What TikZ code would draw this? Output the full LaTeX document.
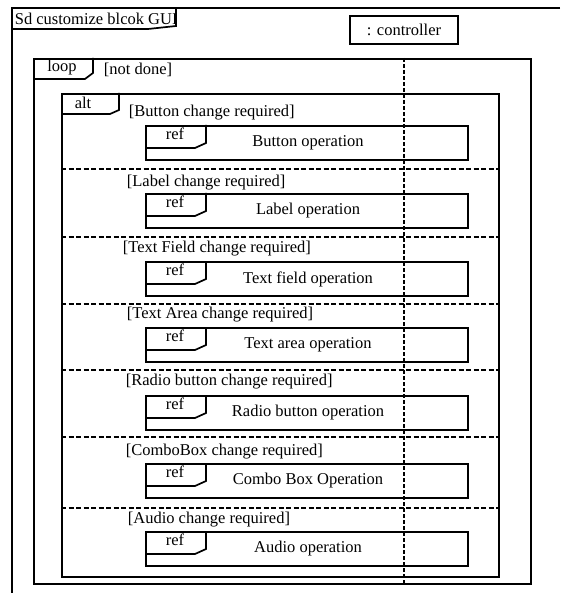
\documentclass[tikz,border=0pt]{standalone}
\usepackage{fontspec}
\setmainfont{Liberation Serif}
\begin{document}
\begin{tikzpicture}[x=1pt,y=-1pt,line width=1.7pt,
  txt/.style={font=\fontsize{16.5}{18}\selectfont, inner sep=0pt},
  frame/.style={draw, rectangle, anchor=north west, inner sep=0pt},
  lifeline/.style={line width=1.7pt, dash pattern=on 4pt off 2pt},
  sep/.style={line width=1.7pt, dash pattern=on 5pt off 2.5pt}]
\useasboundingbox (0,0) rectangle (560,593);
% outer sequence frame
\coordinate (sdtr) at (560,8);
\coordinate (sdtl) at (12,8);
\coordinate (sdbl) at (12,593);
\draw (sdtr) -- (sdtl) -- (sdbl);
\node[txt, anchor=west] (title) at (14,19) {Sd customize blcok GUI};
\draw (sdtl |- 0,29) -- (148,29) -- (176,26) -- (176,8);
% lifeline head
\node[draw, line width=1.4pt, minimum width=108pt, minimum height=28pt, txt] (ctrl) at (404,30) {: controller};
% loop frame
\node[frame, minimum width=497pt, minimum height=525pt] (loop) at (33,58) {};
\draw ([yshift=-21pt]loop.north west) -- ++(52,0) -- ++(8,-6) -- ([xshift=60pt]loop.north west);
\node[txt] (looplbl) at (62,68) {loop};
\node[txt, anchor=west] (loopg) at (103,70) {[not done]};
% alt frame
\node[frame, minimum width=437pt, minimum height=483pt] (alt) at (61,93) {};
\draw ([yshift=-21pt]alt.north west) -- ++(49,0) -- ++(9,-4) -- ([xshift=58pt]alt.north west);
\node[txt] (altlbl) at (83,103) {alt};
% lifeline
\draw[lifeline] (ctrl.south |- loop.north) -- (ctrl.south |- loop.south);
% operand separators
\foreach \k/\yy in {1/169,2/237,3/304,4/370,5/437,6/508}{
  \draw[sep] (alt.west |- 0,\yy) -- (alt.east |- 0,\yy);
}
% operands
\foreach \i/\t/\gx/\gy/\g/\op in {
  1/125/128/113/Button change required/Button operation,
  2/193/126/183/Label change required/Label operation,
  3/261/122/249/Text Field change required/Text field operation,
  4/327/126/315/Text Area change required/Text area operation,
  5/395/125/382/Radio button change required/Radio button operation,
  6/463/125/452/ComboBox change required/Combo Box Operation,
  7/531/127/520/Audio change required/Audio operation}{
  \node[txt, anchor=west] (g\i) at (\gx,\gy) {[\g]};
  \node[frame, minimum width=322pt, minimum height=34pt] (r\i) at (145,\t) {};
  \draw ([xshift=61pt]r\i.north west) -- ++(0,18) -- ++(-11,5) -- ([yshift=-23pt]r\i.north west);
  \node[txt] (rl\i) at (175,\t+9) {ref};
  \node[txt] (op\i) at (308,\t+18) {\op};
}
\end{tikzpicture}
\end{document}
